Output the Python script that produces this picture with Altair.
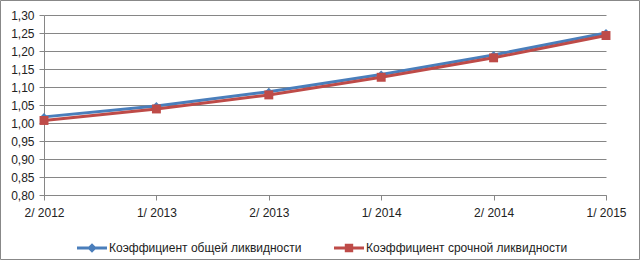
import altair as alt
import pandas as pd

periods = ["2/ 2012", "1/ 2013", "2/ 2013", "1/ 2014", "2/ 2014", "1/ 2015"]
series_names = ["Коэффициент общей ликвидности", "Коэффициент срочной ликвидности"]
total_liq = [1.017, 1.047, 1.087, 1.135, 1.189, 1.250]
quick_liq = [1.007, 1.039, 1.078, 1.127, 1.181, 1.243]
y_ticks = [0.80, 0.85, 0.90, 0.95, 1.00, 1.05, 1.10, 1.15, 1.20, 1.25, 1.30]

BLUE = "#4a7ebb"
RED = "#be4b48"
GRID = "#868686"
FONT = "Liberation Sans"

rows = []
for p, v in zip(periods, total_liq):
    rows.append({"period": p, "series": series_names[0], "value": v})
for p, v in zip(periods, quick_liq):
    rows.append({"period": p, "series": series_names[1], "value": v})
df = pd.DataFrame(rows)

x_enc = alt.X("period:N", sort=periods, scale=alt.Scale(type="point", padding=0),
              axis=alt.Axis(title=None, labelAngle=0, ticks=True, tickSize=5, tickColor=GRID,
                            domainColor=GRID, labelPadding=7, grid=False, labelFontSize=12,
                            labelFont=FONT, labelColor="#222"))
y_enc = alt.Y("value:Q", scale=alt.Scale(domain=[0.80, 1.30], nice=False, zero=False),
              axis=alt.Axis(title=None, values=y_ticks, grid=True, gridColor=GRID, domainColor=GRID,
                            tickColor=GRID, tickSize=5, labelPadding=5, labelFontSize=12,
                            labelFont=FONT, labelColor="#222",
                            labelExpr="replace(format(datum.value, '.2f'), '.', ',')"))

base = alt.Chart(df)


def series_layers(name, color, shape, size):
    sub = base.transform_filter(alt.datum.series == name)
    ln = sub.mark_line(strokeWidth=3, color=color).encode(x=x_enc, y=y_enc)
    pt = sub.mark_point(filled=True, color=color, shape=shape, size=size, opacity=1).encode(x=x_enc, y=y_enc)
    return ln, pt


b_line, b_pts = series_layers(series_names[0], BLUE, "diamond", 64)
r_line, r_pts = series_layers(series_names[1], RED, "square", 80)

legend_paths = [
    "M-1,-0.1H1V0.1H-1Z M0,-0.32L0.32,0L0,0.32L-0.32,0Z",
    "M-1,-0.1H1V0.1H-1Z M-0.28,-0.28H0.28V0.28H-0.28Z",
]

legend_cfg = alt.Legend(title=None, orient="none", legendX=33, legendY=218, direction="horizontal",
                        columns=2, columnPadding=32, symbolSize=900, symbolStrokeWidth=0,
                        labelFont=FONT, labelFontSize=12, labelColor="#222", labelOffset=2,
                        labelLimit=400, symbolOpacity=1)

legend_layer = base.mark_point(filled=True, opacity=0, size=900).encode(
    x=x_enc, y=y_enc,
    color=alt.Color("series:N", scale=alt.Scale(domain=series_names, range=[BLUE, RED]), legend=legend_cfg),
    shape=alt.Shape("series:N", scale=alt.Scale(domain=series_names, range=legend_paths), legend=legend_cfg),
)

border = alt.Chart(pd.DataFrame({"k": [0]})).mark_rect(fill=None, stroke="#888888", strokeWidth=1).encode(
    x=alt.value(-43.5), x2=alt.value(595.5), y=alt.value(-14.5), y2=alt.value(244.5)
)

chart = alt.layer(border, b_line, b_pts, r_line, r_pts, legend_layer).properties(
    width=562, height=180,
    autosize=alt.AutoSizeParams(type="none"),
    padding={"left": 44, "top": 15, "right": 36, "bottom": 67},
    background="white",
).configure_view(stroke=None)

chart.save("out.html", embed_options={"renderer": "svg", "actions": False})
